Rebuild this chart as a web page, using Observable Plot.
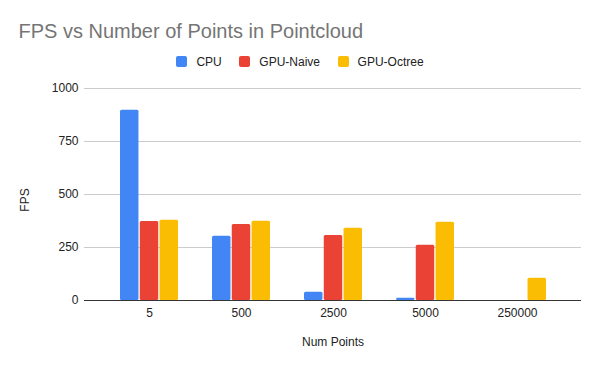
<!DOCTYPE html>
<html>
<head>
<meta charset="utf-8">
<script src="https://cdn.jsdelivr.net/npm/d3@7"></script>
<script src="https://cdn.jsdelivr.net/npm/@observablehq/plot@0.6"></script>
<style>
  html, body { margin: 0; padding: 0; background: #fff; }
  #wrap { position: relative; width: 600px; height: 371px; font-family: "Liberation Sans", Arial, sans-serif; }
  #header { position: relative; width: 600px; height: 75px; }
  #title { position: absolute; left: 18.5px; top: 19.4px; font-size: 20px; line-height: 24px; color: #757575; white-space: nowrap; }
  #legend { position: absolute; left: 0; width: 600px; top: 54.8px; display: flex; justify-content: center; align-items: center; font-size: 12px; line-height: 14px; color: #222; }
  .item { display: flex; align-items: center; margin: 0 8.8px; }
  .sw { width: 11px; height: 11px; border-radius: 2px; margin-right: 9px; }
  #ytitle { position: absolute; left: 25px; top: 200px; font-size: 12px; line-height: 14px; color: #222; white-space: nowrap; transform: translate(-50%, -50%) rotate(-90deg); }
  svg { display: block; }
</style>
</head>
<body>
<div id="wrap">
  <div id="header">
    <div id="title"></div>
    <div id="legend"></div>
  </div>
  <div id="chart"></div>
  <div id="ytitle"></div>
</div>
<script>
const title = "FPS vs Number of Points in Pointcloud";
const xTitle = "Num Points";
const yTitle = "FPS";
const categories = ["5", "500", "2500", "5000", "250000"];
const seriesNames = ["CPU", "GPU-Naive", "GPU-Octree"];
const seriesColors = ["#4285F4", "#EA4335", "#FBBC04"];
const cpu = [897, 303, 39, 11, 0];
const gpuNaive = [373, 358, 307, 261, 0];
const gpuOctree = [378, 374, 341, 369, 105];
const yTicks = [0, 250, 500, 750, 1000];

document.getElementById("title").textContent = title;
document.getElementById("ytitle").textContent = yTitle;
const legend = document.getElementById("legend");
seriesNames.forEach((name, i) => {
  const it = document.createElement("div");
  it.className = "item";
  const sw = document.createElement("div");
  sw.className = "sw";
  sw.style.background = seriesColors[i];
  const tx = document.createElement("span");
  tx.textContent = name;
  it.appendChild(sw); it.appendChild(tx);
  legend.appendChild(it);
});

const values = [cpu, gpuNaive, gpuOctree];
const table = categories.map((c, i) => ({cat: c, v: values.map(s => s[i])}));

const W = 600, H = 296;
const mL = 84, mR = 19, mT = 13, mB = 71;
const pad = 0.37;
const step = (W - mL - mR) / (categories.length + pad);
const bw = (1 - pad) * step;
const gap = 1;
const barW = (bw - 2 * gap) / 3;

const bars = values.map((s, k) => Plot.barY(table, {
  x: "cat",
  y: d => d.v[k],
  fill: seriesColors[k],
  insetLeft: k * (barW + gap),
  insetRight: bw - (k + 1) * barW - k * gap,
  rx: 1.5
}));

const chart = Plot.plot({
  width: W,
  height: H,
  marginLeft: mL,
  marginRight: mR,
  marginTop: mT,
  marginBottom: mB,
  style: {fontFamily: "'Liberation Sans', Arial, sans-serif", fontSize: "12px", color: "#222", background: "#fff"},
  x: {domain: categories, padding: pad, tickSize: 0, tickPadding: 8, label: null},
  y: {domain: [0, 1000], ticks: yTicks, tickSize: 0, tickPadding: 6, tickFormat: d => String(d), label: null},
  marks: [
    Plot.ruleY(yTicks.filter(t => t !== 0), {stroke: "#cccccc", strokeWidth: 1}),
    ...bars,
    Plot.ruleY([0], {stroke: "#333333", strokeWidth: 1}),
    Plot.text([xTitle], {frameAnchor: "bottom", dy: 45, fill: "#222", fontSize: 12})
  ]
});
document.getElementById("chart").appendChild(chart);
</script>
</body>
</html>
